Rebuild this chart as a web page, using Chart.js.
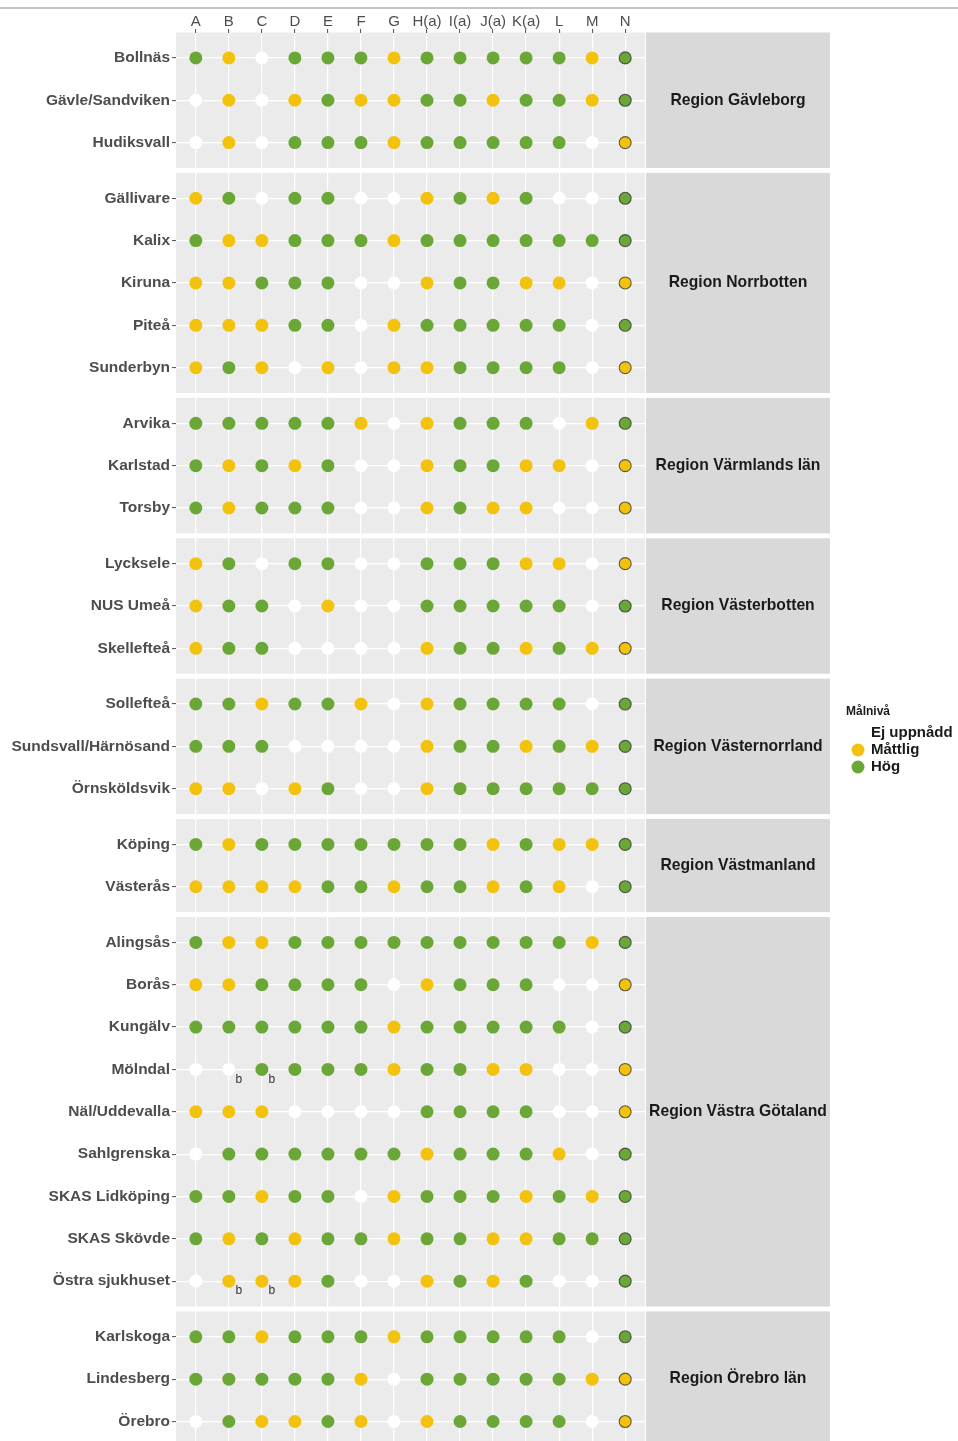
<!DOCTYPE html>
<html>
<head>
<meta charset="utf-8">
<script src="https://cdn.jsdelivr.net/npm/chart.js@4.4.1/dist/chart.umd.min.js"></script>
<style>
  html, body { margin: 0; padding: 0; background: #fff; overflow: hidden; }
  #wrap { position: relative; width: 958px; height: 1454px; }
</style>
</head>
<body>
<div id="wrap"><canvas id="malniva" width="958" height="1454"></canvas></div>
<script>
// data
const columns = ['A', 'B', 'C', 'D', 'E', 'F', 'G', 'H(a)', 'I(a)', 'J(a)', 'K(a)', 'L', 'M', 'N'];
const regionNames = ['Region Gävleborg', 'Region Norrbotten', 'Region Värmlands län', 'Region Västerbotten',
  'Region Västernorrland', 'Region Västmanland', 'Region Västra Götaland', 'Region Örebro län'];
const regionSizes = [3, 5, 3, 3, 3, 2, 9, 3];
const hospitals = ['Bollnäs', 'Gävle/Sandviken', 'Hudiksvall',
  'Gällivare', 'Kalix', 'Kiruna', 'Piteå', 'Sunderbyn',
  'Arvika', 'Karlstad', 'Torsby',
  'Lycksele', 'NUS Umeå', 'Skellefteå',
  'Sollefteå', 'Sundsvall/Härnösand', 'Örnsköldsvik',
  'Köping', 'Västerås',
  'Alingsås', 'Borås', 'Kungälv', 'Mölndal', 'Näl/Uddevalla', 'Sahlgrenska', 'SKAS Lidköping', 'SKAS Skövde', 'Östra sjukhuset',
  'Karlskoga', 'Lindesberg', 'Örebro'];
const levels = ['Ej uppnådd', 'Måttlig', 'Hög'];

// 0 = ej uppnådd, 1 = måttlig, 2 = hög  (columns A..M)
const scores = [
  [2,1,0,2,2,2,1,2,2,2,2,2,1],
  [0,1,0,1,2,1,1,2,2,1,2,2,1],
  [0,1,0,2,2,2,1,2,2,2,2,2,0],
  [1,2,0,2,2,0,0,1,2,1,2,0,0],
  [2,1,1,2,2,2,1,2,2,2,2,2,2],
  [1,1,2,2,2,0,0,1,2,2,1,1,0],
  [1,1,1,2,2,0,1,2,2,2,2,2,0],
  [1,2,1,0,1,0,1,1,2,2,2,2,0],
  [2,2,2,2,2,1,0,1,2,2,2,0,1],
  [2,1,2,1,2,0,0,1,2,2,1,1,0],
  [2,1,2,2,2,0,0,1,2,1,1,0,0],
  [1,2,0,2,2,0,0,2,2,2,1,1,0],
  [1,2,2,0,1,0,0,2,2,2,2,2,0],
  [1,2,2,0,0,0,0,1,2,2,1,2,1],
  [2,2,1,2,2,1,0,1,2,2,2,2,0],
  [2,2,2,0,0,0,0,1,2,2,1,2,1],
  [1,1,0,1,2,0,0,1,2,2,2,2,2],
  [2,1,2,2,2,2,2,2,2,1,2,1,1],
  [1,1,1,1,2,2,1,2,2,1,2,1,0],
  [2,1,1,2,2,2,2,2,2,2,2,2,1],
  [1,1,2,2,2,2,0,1,2,2,2,0,0],
  [2,2,2,2,2,2,1,2,2,2,2,2,0],
  [0,0,2,2,2,2,1,2,2,1,1,0,0],
  [1,1,1,0,0,0,0,2,2,2,2,0,0],
  [0,2,2,2,2,2,2,1,2,2,2,1,0],
  [2,2,1,2,2,0,1,2,2,2,1,2,1],
  [2,1,2,1,2,2,1,2,2,1,1,2,2],
  [0,1,1,1,2,0,0,1,2,1,2,0,0],
  [2,2,1,2,2,2,1,2,2,2,2,2,0],
  [2,2,2,2,2,1,0,2,2,2,2,2,1],
  [0,2,1,1,2,1,0,1,2,2,2,2,0]
];
// column N (crossed marker)
const scoresN = [2,2,1, 2,2,1,2,1, 2,1,1, 1,2,1, 2,2,2, 2,2, 2,1,2,1,1,2,2,2,2, 2,1,1];
const footnotes = [
  ['Mölndal', 'B', 'b'], ['Mölndal', 'C', 'b'],
  ['Östra sjukhuset', 'B', 'b'], ['Östra sjukhuset', 'C', 'b']
];

const levelColors = ['#ffffff', '#f3c20c', '#6aa737'];
const fontFamily = "'Liberation Sans', Arial, sans-serif";

// row positions, with a small gap between regions
const panelGap = 0.115;
const rowPos = [];
const panels = [];
let pos = 0;
regionSizes.forEach(function(n, r) {
  for (let i = 0; i < n; i++) rowPos.push(pos + i);
  panels.push({ name: regionNames[r], from: pos - 0.6, to: pos + n - 1 + 0.6 });
  pos += n - 1 + 1.2 + panelGap;
});
const yMax = rowPos[rowPos.length - 1] + 0.6;

// datasets
const datasets = [];
levels.forEach(function(lvl, k) {
  const pts = [];
  scores.forEach(function(row, r) {
    row.forEach(function(v, c) {
      if (v === k) pts.push({ x: c, y: rowPos[r] });
    });
  });
  datasets.push({
    label: lvl,
    data: pts,
    pointRadius: 6.5,
    pointBackgroundColor: levelColors[k],
    pointBorderWidth: 0,
    pointBorderColor: levelColors[k]
  });
});
[1, 2].forEach(function(k) {
  const pts = [];
  scoresN.forEach(function(v, r) {
    if (v === k) pts.push({ x: 13, y: rowPos[r] });
  });
  datasets.push({
    label: 'N ' + levels[k],
    data: pts,
    pointRadius: 6,
    pointBackgroundColor: levelColors[k],
    pointBorderColor: 'rgba(45,45,45,0.75)',
    pointBorderWidth: 1.1
  });
});
datasets.push({
  label: 'N kryss',
  data: scoresN.map(function(v, r) { return { x: 13, y: rowPos[r] }; }),
  pointStyle: 'crossRot',
  pointRadius: 5.6,
  pointBorderColor: 'rgba(35,35,35,0.85)',
  pointBorderWidth: 1.4
});

// facets, strips, footnotes and legend
const facetPlugin = {
  id: 'facets',
  beforeDraw: function(chart) {
    const c = chart.ctx, area = chart.chartArea, y = chart.scales.y;
    c.save();
    c.fillStyle = '#c4c4c4';
    c.fillRect(0, 7, chart.width, 2);
    panels.forEach(function(p) {
      const top = y.getPixelForValue(p.from), bottom = y.getPixelForValue(p.to);
      c.fillStyle = '#ebebeb';
      c.fillRect(area.left, top, area.right - area.left, bottom - top);
      c.fillStyle = '#d9d9d9';
      c.fillRect(area.right + 1, top, 184, bottom - top);
      c.fillStyle = '#1a1a1a';
      c.font = 'bold 15.7px ' + fontFamily;
      c.textAlign = 'center';
      c.textBaseline = 'middle';
      c.fillText(p.name, area.right + 1 + 92, (top + bottom) / 2);
    });
    c.restore();
  },
  afterDraw: function(chart) {
    const c = chart.ctx, x = chart.scales.x, y = chart.scales.y;
    c.save();
    c.fillStyle = '#333333';
    c.font = '12px ' + fontFamily;
    c.textAlign = 'center';
    c.textBaseline = 'middle';
    footnotes.forEach(function(f) {
      const px = x.getPixelForValue(columns.indexOf(f[1]));
      const py = y.getPixelForValue(rowPos[hospitals.indexOf(f[0])]);
      c.fillText(f[2], px + 10, py + 10);
    });
    // legend
    c.textAlign = 'left';
    c.fillStyle = '#1a1a1a';
    c.font = 'bold 12px ' + fontFamily;
    c.fillText('Målnivå', 846, 712);
    levels.forEach(function(lvl, k) {
      const ly = 733 + k * 17;
      c.beginPath();
      c.arc(858, ly, 6.5, 0, Math.PI * 2);
      c.fillStyle = levelColors[k];
      c.fill();
      c.fillStyle = '#1a1a1a';
      c.font = 'bold 15px ' + fontFamily;
      c.fillText(lvl, 871, ly);
    });
    c.restore();
  }
};

const ctx = document.getElementById('malniva').getContext('2d');
new Chart(ctx, {
  type: 'scatter',
  data: { datasets: datasets },
  plugins: [facetPlugin],
  options: {
    responsive: false,
    animation: false,
    events: [],
    layout: { padding: { left: 0, right: 313, top: 0, bottom: 1 } },
    plugins: {
      legend: { display: false },
      tooltip: { enabled: false }
    },
    scales: {
      x: {
        type: 'linear',
        position: 'top',
        min: -0.6,
        max: 13.6,
        afterBuildTicks: function(s) { s.ticks = columns.map(function(c, i) { return { value: i }; }); },
        afterFit: function(s) { s.height = 32.5; s.paddingLeft = 0; s.paddingRight = 0; },
        ticks: {
          autoSkip: false,
          maxRotation: 0,
          padding: -2,
          color: '#4d4d4d',
          font: { family: fontFamily, size: 15 },
          callback: function(v, i) { return columns[i]; }
        },
        grid: { color: '#ffffff', lineWidth: 1.2, tickColor: '#4d4d4d', tickLength: 3.5, tickWidth: 1 },
        border: { display: false }
      },
      y: {
        type: 'linear',
        reverse: true,
        min: -0.6,
        max: yMax,
        afterBuildTicks: function(s) { s.ticks = rowPos.map(function(v) { return { value: v }; }); },
        afterFit: function(s) { s.width = 176; s.paddingTop = 0; s.paddingBottom = 0; },
        ticks: {
          autoSkip: false,
          padding: 2,
          color: '#4d4d4d',
          font: { family: fontFamily, size: 15.5, weight: 'bold' },
          callback: function(v, i) { return hospitals[i]; }
        },
        grid: { color: '#ffffff', lineWidth: 1.2, tickColor: '#4d4d4d', tickLength: 4, tickWidth: 1 },
        border: { display: false }
      }
    }
  }
});
</script>
</body>
</html>
